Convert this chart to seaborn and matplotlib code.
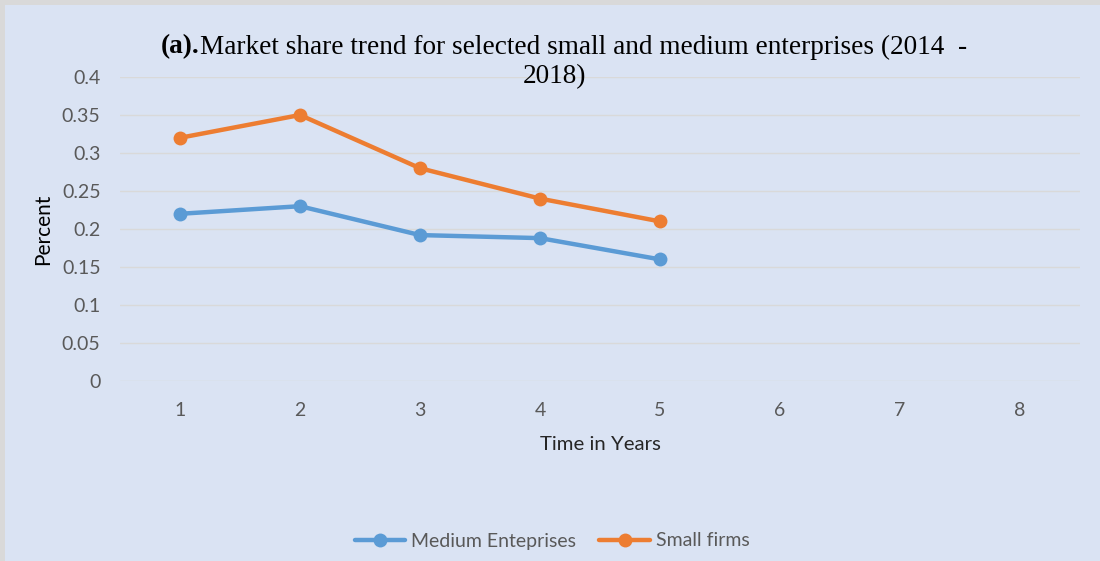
import matplotlib
matplotlib.use("Agg")
import matplotlib.pyplot as plt
from matplotlib.patches import Rectangle
from matplotlib.lines import Line2D
import pandas as pd
import seaborn as sns

years = [1, 2, 3, 4, 5]
medium_share = [0.22, 0.23, 0.192, 0.188, 0.16]
small_share = [0.32, 0.35, 0.28, 0.24, 0.21]
series_names = ["Medium Enteprises", "Small firms"]
x_ticks = [1, 2, 3, 4, 5, 6, 7, 8]
y_ticks = [0, 0.05, 0.1, 0.15, 0.2, 0.25, 0.3, 0.35, 0.4]
y_tick_labels = ["0", "0.05", "0.1", "0.15", "0.2", "0.25", "0.3", "0.35", "0.4"]

df = pd.DataFrame({
    "Year": years * 2,
    "Share": medium_share + small_share,
    "Series": [series_names[0]] * len(years) + [series_names[1]] * len(years),
})

sns.set_theme(style="white")
plt.rcParams["font.family"] = ["Lato", "DejaVu Sans"]

bg = "#dae3f3"
fig = plt.figure(figsize=(11, 5.61), dpi=100, facecolor=bg)
# thin grey frame along the top and left edges
fig.patches.append(Rectangle((0, 1 - 5 / 561), 1, 5 / 561, transform=fig.transFigure,
                             facecolor="#d9d9d9", edgecolor="none", zorder=0))
fig.patches.append(Rectangle((0, 0), 5 / 1100, 1, transform=fig.transFigure,
                             facecolor="#d9d9d9", edgecolor="none", zorder=0))

ax = fig.add_axes([120 / 1100, 1 - 381 / 561, 960 / 1100, 304 / 561])
ax.set_facecolor(bg)

palette = {series_names[0]: "#5b9bd5", series_names[1]: "#ed7d31"}
sns.lineplot(data=df, x="Year", y="Share", hue="Series", palette=palette,
             marker="o", markersize=10, markeredgewidth=0, linewidth=3.2,
             ax=ax, legend=False, zorder=3)

ax.set_xlim(0.5, 8.5)
ax.set_ylim(0, 0.4)
ax.set_xticks(x_ticks)
ax.set_yticks(y_ticks)
ax.set_yticklabels(y_tick_labels)
ax.grid(axis="y", color="#d9d9d9", linewidth=1.0, zorder=0)
for s in ax.spines.values():
    s.set_visible(False)
ax.tick_params(axis="both", length=0, labelsize=14, colors="#595959")
ax.tick_params(axis="y", pad=14)
ax.tick_params(axis="x", pad=15)

ax.set_xlabel("Time in Years", fontsize=14.7, color="#262626", labelpad=12)
ax.set_ylabel("Percent", fontsize=15, color="#000000", labelpad=6)

# two-part title: bold prefix followed by regular text
title_kw = dict(family="Liberation Serif", fontsize=19.6, color="#000000", va="center")
fig.text(200 / 1100, 1 - 47 / 561, "(a).", ha="right", fontweight="bold", **title_kw)
fig.text(200 / 1100, 1 - 47 / 561,
         "Market share trend for selected small and medium enterprises (2014  -",
         ha="left", **title_kw)
fig.text(555 / 1100, 1 - 77 / 561, "2018)", ha="center", **title_kw)

handles = [Line2D([], [], color=palette[n], linewidth=3.2, marker="o",
                  markersize=10, markeredgewidth=0) for n in series_names]
fig.legend(handles, series_names, loc="center", bbox_to_anchor=(552 / 1100, 1 - 541 / 561),
           ncol=2, frameon=False, fontsize=14, labelcolor="#595959",
           handlelength=2.6, handletextpad=0.3, columnspacing=1.2)

fig.savefig("out.png", dpi=100, facecolor=bg)
